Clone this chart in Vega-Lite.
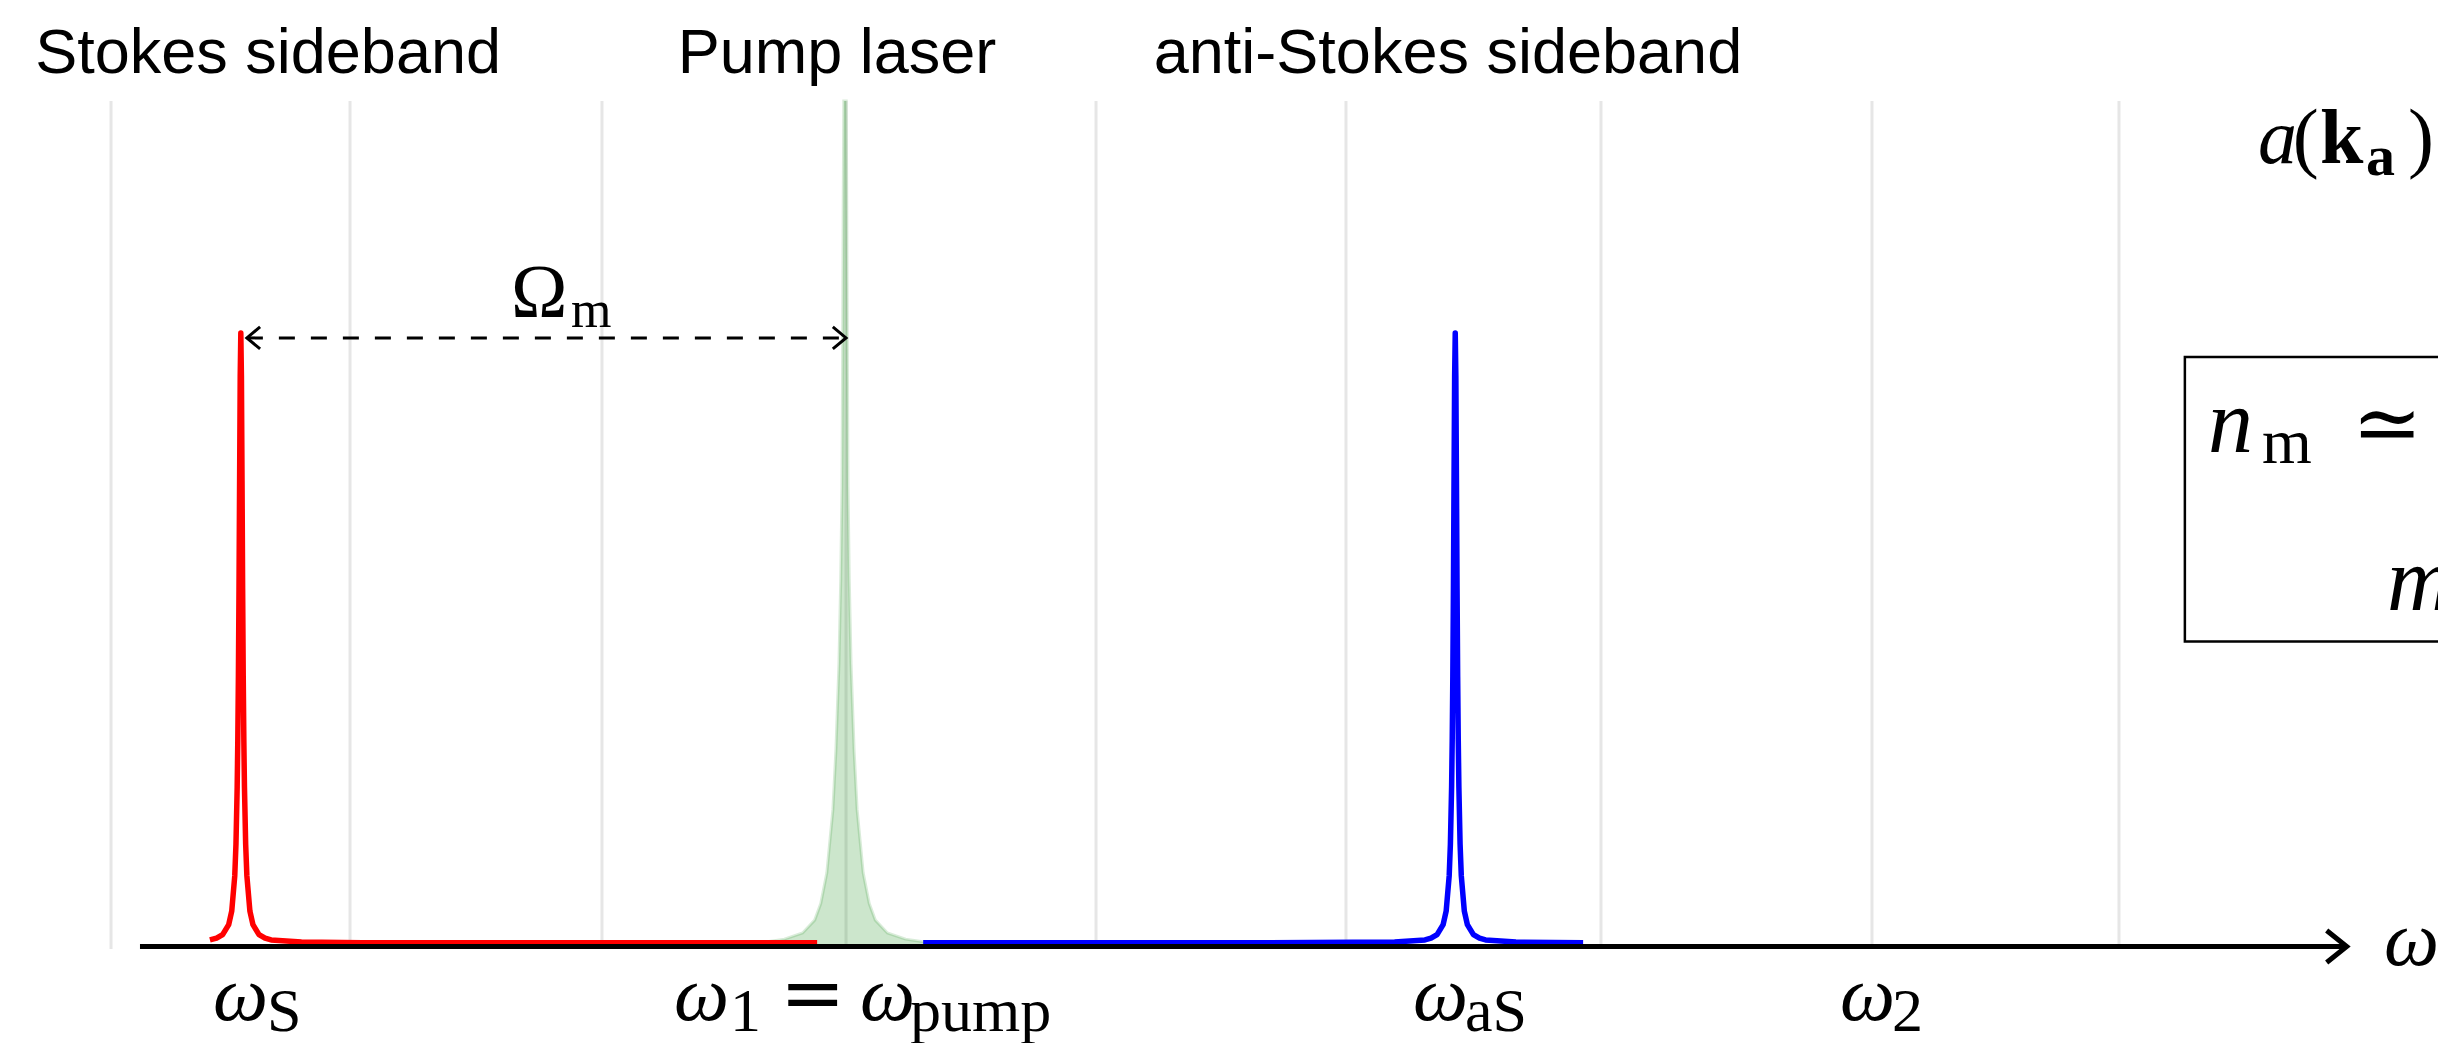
{
  "$schema": "https://vega.github.io/schema/vega-lite/v6.json",
  "width": 2438,
  "height": 1043,
  "autosize": {"type": "none"},
  "padding": 0,
  "background": "white",
  "config": {"view": {"stroke": null}},
  "datasets": {
    "grid": [{"w": -1.2112}, {"w": -0.8168}, {"w": -0.401}, {"w": 0.0017}, {"w": 0.4142}, {"w": 0.8267}, {"w": 1.2475}, {"w": 1.6947}, {"w": 2.1023}],
    "pump": [
      {"w": -0.14, "h": 0.006}, {"w": -0.1, "h": 0.012}, {"w": -0.07, "h": 0.022}, {"w": -0.05, "h": 0.043}, {"w": -0.04, "h": 0.07}, {"w": -0.03, "h": 0.12}, {"w": -0.02, "h": 0.223}, {"w": -0.015, "h": 0.32}, {"w": -0.01, "h": 0.46}, {"w": -0.007, "h": 0.6}, {"w": -0.005, "h": 0.75}, {"w": -0.004, "h": 0.95}, {"w": -0.003, "h": 1.2}, {"w": -0.002, "h": 1.378}, {"w": 0, "h": 1.378},
      {"w": 0.002, "h": 1.378}, {"w": 0.003, "h": 1.2}, {"w": 0.004, "h": 0.95}, {"w": 0.005, "h": 0.75}, {"w": 0.007, "h": 0.6}, {"w": 0.01, "h": 0.46}, {"w": 0.015, "h": 0.32}, {"w": 0.02, "h": 0.223}, {"w": 0.03, "h": 0.12}, {"w": 0.04, "h": 0.07}, {"w": 0.05, "h": 0.043}, {"w": 0.07, "h": 0.022}, {"w": 0.1, "h": 0.012}, {"w": 0.14, "h": 0.006}
    ],
    "stokes": [
      {"w": -1.048, "h": 0.0107}, {"w": -1.037, "h": 0.0136}, {"w": -1.027, "h": 0.0194}, {"w": -1.017, "h": 0.0357}, {"w": -1.012, "h": 0.0576}, {"w": -1.007, "h": 0.1151}, {"w": -1.005, "h": 0.1667}, {"w": -1.003, "h": 0.2599}, {"w": -1.002, "h": 0.3349}, {"w": -1.001, "h": 0.4396}, {"w": -1.0, "h": 0.5825}, {"w": -0.999, "h": 0.76}, {"w": -0.998, "h": 0.93}, {"w": -0.997, "h": 1.0}, {"w": -0.996, "h": 0.93}, {"w": -0.995, "h": 0.76}, {"w": -0.994, "h": 0.5825}, {"w": -0.993, "h": 0.4396}, {"w": -0.992, "h": 0.3349}, {"w": -0.991, "h": 0.2599}, {"w": -0.989, "h": 0.1667}, {"w": -0.987, "h": 0.1151}, {"w": -0.982, "h": 0.0576}, {"w": -0.977, "h": 0.0357}, {"w": -0.967, "h": 0.0194}, {"w": -0.957, "h": 0.0136}, {"w": -0.947, "h": 0.0107}, {"w": -0.897, "h": 0.0072}, {"w": -0.797, "h": 0.0063}, {"w": -0.597, "h": 0.0061}, {"w": -0.297, "h": 0.006}, {"w": -0.046, "h": 0.006}
    ],
    "antistokes": [
      {"w": 0.129, "h": 0.006}, {"w": 0.4, "h": 0.006}, {"w": 0.7, "h": 0.0061}, {"w": 0.907, "h": 0.0072}, {"w": 0.957, "h": 0.0107}, {"w": 0.967, "h": 0.0136}, {"w": 0.977, "h": 0.0194}, {"w": 0.987, "h": 0.0357}, {"w": 0.992, "h": 0.0576}, {"w": 0.997, "h": 0.1151}, {"w": 0.999, "h": 0.1667}, {"w": 1.001, "h": 0.2599}, {"w": 1.002, "h": 0.3349}, {"w": 1.003, "h": 0.4396}, {"w": 1.004, "h": 0.5825}, {"w": 1.005, "h": 0.76}, {"w": 1.006, "h": 0.93}, {"w": 1.007, "h": 1.0}, {"w": 1.008, "h": 0.93}, {"w": 1.009, "h": 0.76}, {"w": 1.01, "h": 0.5825}, {"w": 1.011, "h": 0.4396}, {"w": 1.012, "h": 0.3349}, {"w": 1.013, "h": 0.2599}, {"w": 1.015, "h": 0.1667}, {"w": 1.017, "h": 0.1151}, {"w": 1.022, "h": 0.0576}, {"w": 1.027, "h": 0.0357}, {"w": 1.037, "h": 0.0194}, {"w": 1.047, "h": 0.0136}, {"w": 1.057, "h": 0.0107}, {"w": 1.107, "h": 0.0072}, {"w": 1.218, "h": 0.0063}
    ],
    "axisLine": [{"w": -1.1634, "w2": 2.478, "h": 0}],
    "omegaM": [{"w": -0.987, "w2": 0.0017, "h": 0.992}],
    "box": [{"w": 2.211, "w2": 3.0, "h": 0.497, "h2": 0.961}],
    "titles": [
      {"t": "Stokes sideband", "w": -0.952, "h": 1.4238},
      {"t": "Pump laser", "w": -0.0132, "h": 1.4238},
      {"t": "anti-Stokes sideband", "w": 0.995, "h": 1.4238}
    ],
    "mathItalic": [
      {"t": "ω", "w": -1.0429, "h": -0.1198},
      {"t": "ω", "w": -0.2822, "h": -0.1198},
      {"t": "ω", "w": 0.0248, "h": -0.1198},
      {"t": "ω", "w": 0.9373, "h": -0.1198},
      {"t": "ω", "w": 1.6419, "h": -0.1198},
      {"t": "ω", "w": 2.5396, "h": -0.0302},
      {"t": "a", "w": 2.3317, "h": 1.2771}
    ],
    "mathUpright": [
      {"t": "(", "w": 2.389, "h": 1.2771},
      {"t": ")", "w": 2.5792, "h": 1.2771}
    ],
    "mathRelation": [
      {"t": "=", "w": -0.1073, "h": -0.1198}
    ],
    "mathSub": [
      {"t": "S", "w": -0.9538, "h": -0.1377},
      {"t": "1", "w": -0.1898, "h": -0.1377},
      {"t": "pump", "w": 0.1073, "h": -0.1377},
      {"t": "aS", "w": 1.0231, "h": -0.1377},
      {"t": "2", "w": 1.7277, "h": -0.1377}
    ],
    "mathBold": [{"t": "k", "w": 2.434, "h": 1.2771}],
    "mathBoldSub": [{"t": "a", "w": 2.5099, "h": 1.2575}],
    "omegaLabel": [{"t": "Ω", "w": -0.5512, "h": 1.0261}],
    "omegaLabelSub": [{"t": "m", "w": -0.4521, "h": 1.0098}],
    "boxItalic": [{"t": "n", "w": 2.2492, "h": 0.806}, {"t": "m", "w": 2.5446, "h": 0.5485}],
    "boxUpright": [{"t": "≃", "w": 2.4868, "h": 0.806}],
    "boxSub": [{"t": "m", "w": 2.3383, "h": 0.788}]
  },
  "layer": [
    {
      "data": {"name": "grid"},
      "mark": {"type": "rule", "color": "#e6e6e6", "strokeWidth": 3},
      "encoding": {
        "x": {"field": "w", "type": "quantitative", "scale": {"domain": [-1.39439, 2.62871], "nice": false, "zero": false}, "axis": null},
        "y": {"datum": -0.004, "type": "quantitative", "scale": {"domain": [-0.1573, 1.5428], "nice": false, "zero": false}, "axis": null},
        "y2": {"datum": 1.378}
      }
    },
    {
      "data": {"name": "pump"},
      "mark": {"type": "area", "color": "#008000", "opacity": 0.2},
      "encoding": {
        "x": {"field": "w", "type": "quantitative", "scale": {"domain": [-1.39439, 2.62871], "nice": false, "zero": false}, "axis": null},
        "y": {"field": "h", "type": "quantitative", "scale": {"domain": [-0.1573, 1.5428], "nice": false, "zero": false}, "axis": null},
        "y2": {"datum": 0}
      }
    },
    {
      "data": {"name": "pump"},
      "mark": {"type": "line", "color": "#008000", "opacity": 0.15, "strokeWidth": 3},
      "encoding": {
        "x": {"field": "w", "type": "quantitative", "scale": {"domain": [-1.39439, 2.62871], "nice": false, "zero": false}, "axis": null},
        "y": {"field": "h", "type": "quantitative", "scale": {"domain": [-0.1573, 1.5428], "nice": false, "zero": false}, "axis": null}
      }
    },
    {
      "data": {"name": "stokes"},
      "mark": {"type": "line", "color": "#ff0000", "strokeWidth": 5.5, "strokeJoin": "round"},
      "encoding": {
        "x": {"field": "w", "type": "quantitative", "scale": {"domain": [-1.39439, 2.62871], "nice": false, "zero": false}, "axis": null},
        "y": {"field": "h", "type": "quantitative", "scale": {"domain": [-0.1573, 1.5428], "nice": false, "zero": false}, "axis": null}
      }
    },
    {
      "data": {"name": "antistokes"},
      "mark": {"type": "line", "color": "#0000ff", "strokeWidth": 5.5, "strokeJoin": "round"},
      "encoding": {
        "x": {"field": "w", "type": "quantitative", "scale": {"domain": [-1.39439, 2.62871], "nice": false, "zero": false}, "axis": null},
        "y": {"field": "h", "type": "quantitative", "scale": {"domain": [-0.1573, 1.5428], "nice": false, "zero": false}, "axis": null}
      }
    },
    {
      "data": {"name": "axisLine"},
      "mark": {"type": "rule", "color": "black", "strokeWidth": 5},
      "encoding": {
        "x": {"field": "w", "type": "quantitative", "scale": {"domain": [-1.39439, 2.62871], "nice": false, "zero": false}, "axis": null},
        "x2": {"field": "w2"},
        "y": {"field": "h", "type": "quantitative", "scale": {"domain": [-0.1573, 1.5428], "nice": false, "zero": false}, "axis": null}
      }
    },
    {
      "data": {"name": "axisLine"},
      "mark": {"type": "point", "shape": "M -1.25 -1 L 0 0 L -1.25 1", "size": 1024, "filled": false, "color": "black", "strokeWidth": 5, "opacity": 1, "strokeJoin": "miter"},
      "encoding": {
        "x": {"field": "w2", "type": "quantitative", "scale": {"domain": [-1.39439, 2.62871], "nice": false, "zero": false}, "axis": null},
        "y": {"field": "h", "type": "quantitative", "scale": {"domain": [-0.1573, 1.5428], "nice": false, "zero": false}, "axis": null}
      }
    },
    {
      "data": {"name": "omegaM"},
      "mark": {"type": "rule", "color": "black", "strokeWidth": 3, "strokeDash": [16, 16]},
      "encoding": {
        "x": {"field": "w", "type": "quantitative", "scale": {"domain": [-1.39439, 2.62871], "nice": false, "zero": false}, "axis": null},
        "x2": {"field": "w2"},
        "y": {"field": "h", "type": "quantitative", "scale": {"domain": [-0.1573, 1.5428], "nice": false, "zero": false}, "axis": null}
      }
    },
    {
      "data": {"name": "omegaM"},
      "mark": {"type": "point", "shape": "M 1.2 -1 L 0 0 L 1.2 1", "size": 484, "filled": false, "color": "black", "strokeWidth": 3, "opacity": 1},
      "encoding": {
        "x": {"field": "w", "type": "quantitative", "scale": {"domain": [-1.39439, 2.62871], "nice": false, "zero": false}, "axis": null},
        "y": {"field": "h", "type": "quantitative", "scale": {"domain": [-0.1573, 1.5428], "nice": false, "zero": false}, "axis": null}
      }
    },
    {
      "data": {"name": "omegaM"},
      "mark": {"type": "point", "shape": "M -1.2 -1 L 0 0 L -1.2 1", "size": 484, "filled": false, "color": "black", "strokeWidth": 3, "opacity": 1},
      "encoding": {
        "x": {"field": "w2", "type": "quantitative", "scale": {"domain": [-1.39439, 2.62871], "nice": false, "zero": false}, "axis": null},
        "y": {"field": "h", "type": "quantitative", "scale": {"domain": [-0.1573, 1.5428], "nice": false, "zero": false}, "axis": null}
      }
    },
    {
      "data": {"name": "box"},
      "mark": {"type": "rect", "fill": null, "stroke": "black", "strokeWidth": 2.5},
      "encoding": {
        "x": {"field": "w", "type": "quantitative", "scale": {"domain": [-1.39439, 2.62871], "nice": false, "zero": false}, "axis": null},
        "x2": {"field": "w2"},
        "y": {"field": "h", "type": "quantitative", "scale": {"domain": [-0.1573, 1.5428], "nice": false, "zero": false}, "axis": null},
        "y2": {"field": "h2"}
      }
    },
    {
      "data": {"name": "titles"},
      "mark": {"type": "text", "font": "Liberation Sans", "fontSize": 63, "align": "center", "baseline": "alphabetic", "color": "black"},
      "encoding": {
        "x": {"field": "w", "type": "quantitative", "scale": {"domain": [-1.39439, 2.62871], "nice": false, "zero": false}, "axis": null},
        "y": {"field": "h", "type": "quantitative", "scale": {"domain": [-0.1573, 1.5428], "nice": false, "zero": false}, "axis": null},
        "text": {"field": "t"}
      }
    },
    {
      "data": {"name": "mathItalic"},
      "mark": {"type": "text", "font": "Liberation Serif", "fontStyle": "italic", "fontSize": 78, "align": "left", "baseline": "alphabetic", "color": "black"},
      "encoding": {
        "x": {"field": "w", "type": "quantitative", "scale": {"domain": [-1.39439, 2.62871], "nice": false, "zero": false}, "axis": null},
        "y": {"field": "h", "type": "quantitative", "scale": {"domain": [-0.1573, 1.5428], "nice": false, "zero": false}, "axis": null},
        "text": {"field": "t"}
      }
    },
    {
      "data": {"name": "mathUpright"},
      "mark": {"type": "text", "font": "Liberation Serif", "fontSize": 78, "align": "left", "baseline": "alphabetic", "color": "black"},
      "encoding": {
        "x": {"field": "w", "type": "quantitative", "scale": {"domain": [-1.39439, 2.62871], "nice": false, "zero": false}, "axis": null},
        "y": {"field": "h", "type": "quantitative", "scale": {"domain": [-0.1573, 1.5428], "nice": false, "zero": false}, "axis": null},
        "text": {"field": "t"}
      }
    },
    {
      "data": {"name": "mathRelation"},
      "mark": {"type": "text", "font": "DejaVu Serif", "fontSize": 78, "align": "left", "baseline": "alphabetic", "color": "black"},
      "encoding": {
        "x": {"field": "w", "type": "quantitative", "scale": {"domain": [-1.39439, 2.62871], "nice": false, "zero": false}, "axis": null},
        "y": {"field": "h", "type": "quantitative", "scale": {"domain": [-0.1573, 1.5428], "nice": false, "zero": false}, "axis": null},
        "text": {"field": "t"}
      }
    },
    {
      "data": {"name": "mathSub"},
      "mark": {"type": "text", "font": "Liberation Serif", "fontSize": 62, "align": "left", "baseline": "alphabetic", "color": "black"},
      "encoding": {
        "x": {"field": "w", "type": "quantitative", "scale": {"domain": [-1.39439, 2.62871], "nice": false, "zero": false}, "axis": null},
        "y": {"field": "h", "type": "quantitative", "scale": {"domain": [-0.1573, 1.5428], "nice": false, "zero": false}, "axis": null},
        "text": {"field": "t"}
      }
    },
    {
      "data": {"name": "mathBold"},
      "mark": {"type": "text", "font": "Liberation Serif", "fontWeight": "bold", "fontSize": 78, "align": "left", "baseline": "alphabetic", "color": "black"},
      "encoding": {
        "x": {"field": "w", "type": "quantitative", "scale": {"domain": [-1.39439, 2.62871], "nice": false, "zero": false}, "axis": null},
        "y": {"field": "h", "type": "quantitative", "scale": {"domain": [-0.1573, 1.5428], "nice": false, "zero": false}, "axis": null},
        "text": {"field": "t"}
      }
    },
    {
      "data": {"name": "mathBoldSub"},
      "mark": {"type": "text", "font": "Liberation Serif", "fontWeight": "bold", "fontSize": 58, "align": "left", "baseline": "alphabetic", "color": "black"},
      "encoding": {
        "x": {"field": "w", "type": "quantitative", "scale": {"domain": [-1.39439, 2.62871], "nice": false, "zero": false}, "axis": null},
        "y": {"field": "h", "type": "quantitative", "scale": {"domain": [-0.1573, 1.5428], "nice": false, "zero": false}, "axis": null},
        "text": {"field": "t"}
      }
    },
    {
      "data": {"name": "omegaLabel"},
      "mark": {"type": "text", "font": "Liberation Serif", "fontSize": 76, "align": "left", "baseline": "alphabetic", "color": "black"},
      "encoding": {
        "x": {"field": "w", "type": "quantitative", "scale": {"domain": [-1.39439, 2.62871], "nice": false, "zero": false}, "axis": null},
        "y": {"field": "h", "type": "quantitative", "scale": {"domain": [-0.1573, 1.5428], "nice": false, "zero": false}, "axis": null},
        "text": {"field": "t"}
      }
    },
    {
      "data": {"name": "omegaLabelSub"},
      "mark": {"type": "text", "font": "Liberation Serif", "fontSize": 52, "align": "left", "baseline": "alphabetic", "color": "black"},
      "encoding": {
        "x": {"field": "w", "type": "quantitative", "scale": {"domain": [-1.39439, 2.62871], "nice": false, "zero": false}, "axis": null},
        "y": {"field": "h", "type": "quantitative", "scale": {"domain": [-0.1573, 1.5428], "nice": false, "zero": false}, "axis": null},
        "text": {"field": "t"}
      }
    },
    {
      "data": {"name": "boxItalic"},
      "mark": {"type": "text", "font": "Liberation Serif", "fontStyle": "italic", "fontSize": 90, "align": "left", "baseline": "alphabetic", "color": "black"},
      "encoding": {
        "x": {"field": "w", "type": "quantitative", "scale": {"domain": [-1.39439, 2.62871], "nice": false, "zero": false}, "axis": null},
        "y": {"field": "h", "type": "quantitative", "scale": {"domain": [-0.1573, 1.5428], "nice": false, "zero": false}, "axis": null},
        "text": {"field": "t"}
      }
    },
    {
      "data": {"name": "boxUpright"},
      "mark": {"type": "text", "font": "DejaVu Serif", "fontSize": 84, "align": "left", "baseline": "alphabetic", "color": "black"},
      "encoding": {
        "x": {"field": "w", "type": "quantitative", "scale": {"domain": [-1.39439, 2.62871], "nice": false, "zero": false}, "axis": null},
        "y": {"field": "h", "type": "quantitative", "scale": {"domain": [-0.1573, 1.5428], "nice": false, "zero": false}, "axis": null},
        "text": {"field": "t"}
      }
    },
    {
      "data": {"name": "boxSub"},
      "mark": {"type": "text", "font": "Liberation Serif", "fontSize": 64, "align": "left", "baseline": "alphabetic", "color": "black"},
      "encoding": {
        "x": {"field": "w", "type": "quantitative", "scale": {"domain": [-1.39439, 2.62871], "nice": false, "zero": false}, "axis": null},
        "y": {"field": "h", "type": "quantitative", "scale": {"domain": [-0.1573, 1.5428], "nice": false, "zero": false}, "axis": null},
        "text": {"field": "t"}
      }
    }
  ]
}
